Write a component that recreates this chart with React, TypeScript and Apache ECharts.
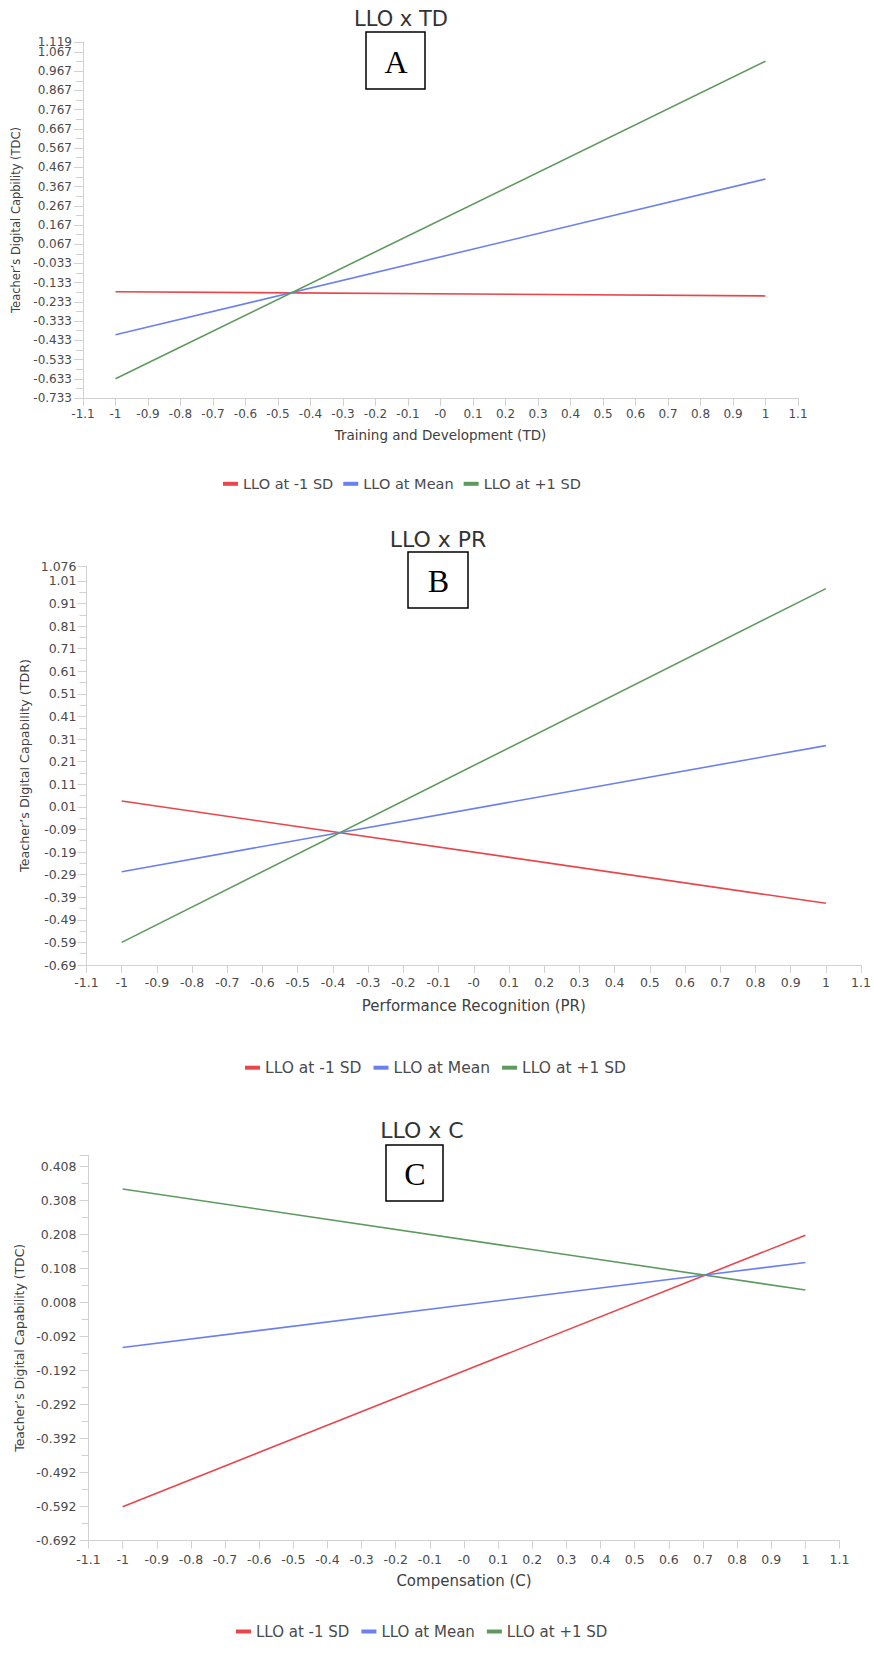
import React, { useEffect, useRef } from 'react';
import * as echarts from 'echarts';

// ---------- data ----------
const seriesNames = ['LLO at -1 SD', 'LLO at Mean', 'LLO at +1 SD'];
const seriesColors = ['#E8464B', '#6B80EF', '#5E9A5E'];
const xPoints = [-1, 1];

// Panel A: LLO x TD
const tdLow = [-0.180, -0.202];
const tdMean = [-0.404, 0.406];
const tdHigh = [-0.633, 1.019];

// Panel B: LLO x PR
const prLow = [0.036, -0.417];
const prMean = [-0.277, 0.281];
const prHigh = [-0.590, 0.976];

// Panel C: LLO x C
const cLow = [-0.592, 0.206];
const cMean = [-0.124, 0.126];
const cHigh = [0.342, 0.045];

// tick values and labels
const xTicks = [-1.1, -1.0, -0.9, -0.8, -0.7, -0.6, -0.5, -0.4, -0.3, -0.2, -0.1, 0, 0.1, 0.2, 0.3, 0.4, 0.5, 0.6, 0.7, 0.8, 0.9, 1.0, 1.1];
const xTickLabels = ['-1.1', '-1', '-0.9', '-0.8', '-0.7', '-0.6', '-0.5', '-0.4', '-0.3', '-0.2', '-0.1', '-0', '0.1', '0.2', '0.3', '0.4', '0.5', '0.6', '0.7', '0.8', '0.9', '1', '1.1'];

const yTicksTD = [-0.733, -0.633, -0.533, -0.433, -0.333, -0.233, -0.133, -0.033, 0.067, 0.167, 0.267, 0.367, 0.467, 0.567, 0.667, 0.767, 0.867, 0.967, 1.067];
const yTopTD = 1.119;
const yTicksPR = [-0.69, -0.59, -0.49, -0.39, -0.29, -0.19, -0.09, 0.01, 0.11, 0.21, 0.31, 0.41, 0.51, 0.61, 0.71, 0.81, 0.91, 1.01];
const yTopPR = 1.076;
const yTicksC = [-0.692, -0.592, -0.492, -0.392, -0.292, -0.192, -0.092, 0.008, 0.108, 0.208, 0.308, 0.408];
const yTopC = 0.442;

const panels = [
  {
    title: 'LLO x TD', letter: 'A',
    xName: 'Training and Development (TD)',
    yName: 'Teacher\u2019s Digital Capbility (TDC)',
    values: [tdLow, tdMean, tdHigh],
    yTicks: yTicksTD, yTop: yTopTD, showTopLabel: true,
    grid: { left: 83, top: 42, width: 715, height: 356 },
    tickFont: 12, labelMarginX: 10, labelMarginY: 11, yLineHeight: 9,
    xNameFont: 13.5, xNameGap: 30, yNameFont: 11.5, yNameGap: 56,
    legend: { left: 223, cy: 485, font: 14.5, gap: 10 },
    titlePos: { x: 401, y: 19, font: 21 },
    box: { x: 366, y: 32, w: 59, h: 57, cx: 396, cy: 62 },
  },
  {
    title: 'LLO x PR', letter: 'B',
    xName: 'Performance Recognition (PR)',
    yName: 'Teacher\u2019s Digital Capability (TDR)',
    values: [prLow, prMean, prHigh],
    yTicks: yTicksPR, yTop: yTopPR, showTopLabel: true,
    grid: { left: 86.5, top: 566, width: 782, height: 399 },
    tickFont: 12.5, labelMarginX: 11, labelMarginY: 10, yLineHeight: 12,
    xNameFont: 15, xNameGap: 33, yNameFont: 12.7, yNameGap: 56,
    legend: { left: 245, cy: 1069, font: 15.5, gap: 12 },
    titlePos: { x: 438, y: 539, font: 22 },
    box: { x: 408, y: 552, w: 60, h: 56, cx: 438.5, cy: 581 },
  },
  {
    title: 'LLO x C', letter: 'C',
    xName: 'Compensation (C)',
    yName: 'Teacher\u2019s Digital Capability (TDC)',
    values: [cLow, cMean, cHigh],
    yTicks: yTicksC, yTop: yTopC, showTopLabel: false,
    grid: { left: 88.5, top: 1155, width: 751, height: 385.7 },
    tickFont: 12.5, labelMarginX: 12, labelMarginY: 12, yLineHeight: 13,
    xNameFont: 15, xNameGap: 33, yNameFont: 12.4, yNameGap: 59,
    legend: { left: 236, cy: 1633, font: 15, gap: 12 },
    titlePos: { x: 422, y: 1130, font: 22 },
    box: { x: 386, y: 1145, w: 57, h: 56, cx: 415, cy: 1174 },
  },
];

const AXIS_COLOR = '#d2d2d2';
const LABEL_COLOR = '#4a4a4a';
const NAME_COLOR = '#404040';
const FONT = 'DejaVu Sans';

function fmtY(v: number) {
  return String(parseFloat(v.toFixed(3)));
}
function fmtX(v: number) {
  let best = 0;
  let bd = Infinity;
  xTicks.forEach((t, i) => {
    const d = Math.abs(t - v);
    if (d < bd) { bd = d; best = i; }
  });
  return xTickLabels[best];
}

function buildOption() {
  const grids: any[] = [];
  const xAxes: any[] = [];
  const yAxes: any[] = [];
  const series: any[] = [];
  const legends: any[] = [];
  const graphics: any[] = [];

  panels.forEach((p, i) => {
    grids.push({ ...p.grid, containLabel: false });
    const yMin = p.yTicks[0];
    const majorTicks = [...p.yTicks, p.yTop];
    const minorTicks = p.yTicks.slice(0, -1).map((v, k) => (v + p.yTicks[k + 1]) / 2);
    const labelStyle = {
      fontSize: p.tickFont,
      fontFamily: FONT,
      color: LABEL_COLOR,
    };

    xAxes.push({
      gridIndex: i,
      type: 'value',
      min: -1.1,
      max: 1.1,
      position: 'bottom',
      axisLine: { show: true, onZero: false, lineStyle: { color: AXIS_COLOR, width: 1 } },
      axisTick: { show: true, length: 8, customValues: xTicks, lineStyle: { color: AXIS_COLOR } },
      axisLabel: {
        ...labelStyle,
        customValues: xTicks,
        formatter: (v: number) => fmtX(v),
        margin: p.labelMarginX,
        showMinLabel: true,
        showMaxLabel: true,
      },
      splitLine: { show: false },
      name: p.xName,
      nameLocation: 'middle',
      nameGap: p.xNameGap,
      nameTextStyle: { fontSize: p.xNameFont, fontFamily: FONT, color: NAME_COLOR },
    });

    // main y axis: line, major ticks, regular labels
    yAxes.push({
      gridIndex: i,
      type: 'value',
      min: yMin,
      max: p.yTop,
      position: 'left',
      axisLine: { show: true, onZero: false, lineStyle: { color: AXIS_COLOR, width: 1 } },
      axisTick: { show: true, length: 9, customValues: majorTicks, lineStyle: { color: AXIS_COLOR } },
      axisLabel: {
        ...labelStyle,
        lineHeight: p.yLineHeight,
        customValues: p.yTicks,
        formatter: (v: number) => fmtY(v),
        margin: p.labelMarginY,
        showMinLabel: true,
        showMaxLabel: true,
      },
      splitLine: { show: false },
      name: p.yName,
      nameLocation: 'middle',
      nameGap: p.yNameGap,
      nameTextStyle: { fontSize: p.yNameFont, fontFamily: FONT, color: NAME_COLOR },
    });
    // secondary y axis: minor ticks and the top (extent) label
    yAxes.push({
      gridIndex: i,
      type: 'value',
      min: yMin,
      max: p.yTop,
      position: 'left',
      axisLine: { show: false, onZero: false },
      axisTick: { show: true, length: 7, customValues: minorTicks, lineStyle: { color: AXIS_COLOR } },
      axisLabel: p.showTopLabel
        ? {
            ...labelStyle,
            lineHeight: p.yLineHeight,
            customValues: [p.yTop],
            formatter: (v: number) => fmtY(v),
            margin: p.labelMarginY,
            showMinLabel: true,
            showMaxLabel: true,
          }
        : { show: false },
      splitLine: { show: false },
    });

    p.values.forEach((vals, s) => {
      series.push({
        type: 'line',
        name: seriesNames[s],
        xAxisIndex: i,
        yAxisIndex: i * 2,
        data: xPoints.map((x, k) => [x, vals[k]]),
        showSymbol: false,
        symbol: 'none',
        lineStyle: { color: seriesColors[s], width: 1.6 },
        itemStyle: { color: seriesColors[s] },
        silent: true,
      });
    });

    legends.push({
      data: seriesNames,
      left: p.legend.left,
      top: p.legend.cy - p.legend.font * 0.6,
      orient: 'horizontal',
      padding: 0,
      itemGap: p.legend.gap,
      itemWidth: 15,
      itemHeight: 4,
      icon: 'rect',
      textStyle: { fontSize: p.legend.font, fontFamily: FONT, color: LABEL_COLOR },
    });

    graphics.push({
      type: 'text',
      x: p.titlePos.x,
      y: p.titlePos.y,
      style: {
        text: p.title,
        fontSize: p.titlePos.font,
        fontFamily: FONT,
        fill: '#333333',
        align: 'center',
        verticalAlign: 'middle',
      },
    });
    graphics.push({
      type: 'rect',
      shape: { x: p.box.x, y: p.box.y, width: p.box.w, height: p.box.h },
      style: { fill: 'none', stroke: '#000000', lineWidth: 1.5 },
    });
    graphics.push({
      type: 'text',
      x: p.box.cx,
      y: p.box.cy,
      style: {
        text: p.letter,
        fontSize: 32,
        fontFamily: 'Liberation Serif',
        fill: '#000000',
        align: 'center',
        verticalAlign: 'middle',
      },
    });
  });

  return {
    animation: false,
    backgroundColor: '#ffffff',
    textStyle: { fontFamily: FONT },
    grid: grids,
    xAxis: xAxes,
    yAxis: yAxes,
    series,
    legend: legends,
    graphic: graphics,
  };
}

export default function App() {
  const ref = useRef<HTMLDivElement>(null);
  useEffect(() => {
    document.body.style.margin = '0';
    if (!ref.current) return;
    const chart = echarts.init(ref.current, null, { renderer: 'svg' });
    chart.setOption(buildOption() as any);
    return () => chart.dispose();
  }, []);
  return <div ref={ref} style={{ width: 874, height: 1655, background: '#fff' }} />;
}
